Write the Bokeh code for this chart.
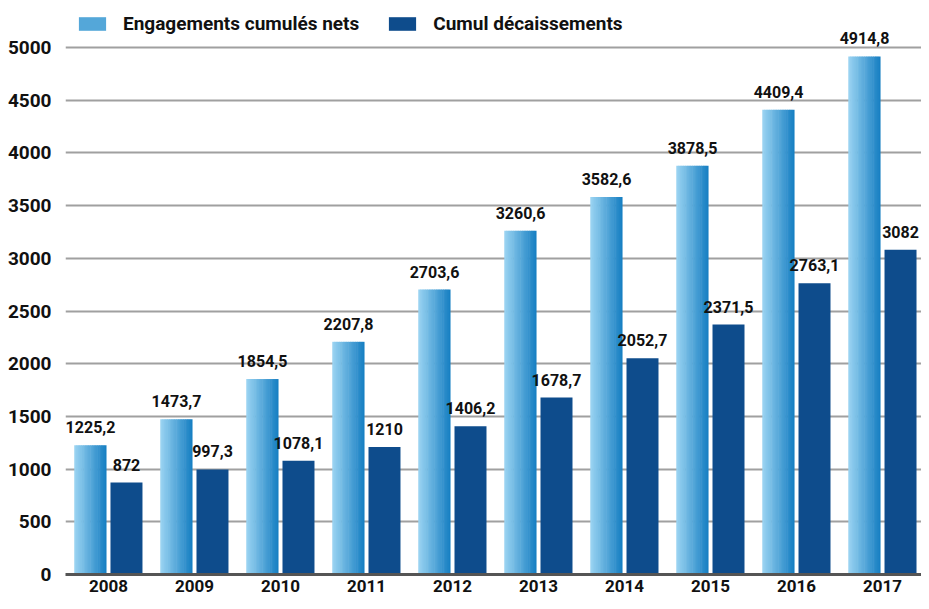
from bokeh.plotting import figure
from bokeh.models import (ColumnDataSource, Range1d, FixedTicker, Legend, LegendItem)
from bokeh.transform import dodge
from bokeh.core.properties import value
from bokeh.embed import file_html
from bokeh.resources import INLINE

# ---- data ----
years = ["2008", "2009", "2010", "2011", "2012", "2013", "2014", "2015", "2016", "2017"]
engagements = [1225.2, 1473.7, 1854.5, 2207.8, 2703.6, 3260.6, 3582.6, 3878.5, 4409.4, 4914.8]
decaissements = [872, 997.3, 1078.1, 1210, 1406.2, 1678.7, 2052.7, 2371.5, 2763.1, 3082]
y_ticks = [0, 500, 1000, 1500, 2000, 2500, 3000, 3500, 4000, 4500, 5000]
series_names = ["Engagements cumulés nets", "Cumul décaissements"]

FONT = "Roboto, 'DejaVu Sans Condensed', sans-serif"

def fmt(v):
    return f"{v:g}".replace(".", ",")

xi = list(range(len(years)))
src = ColumnDataSource(dict(
    x=xi,
    eng=engagements,
    dec=decaissements,
    eng_lbl=[fmt(v) for v in engagements],
    dec_lbl=[fmt(v) for v in decaissements],
))

p = figure(width=921, height=601, output_backend="svg", toolbar_location=None,
           x_range=Range1d(-0.5, 9.453), y_range=Range1d(0, 5446),
           min_border_left=65, min_border_right=0, min_border_top=0, min_border_bottom=27)
p.outline_line_color = None
p.background_fill_color = "white"
p.border_fill_color = "white"

BW = 0.372    # bar width (category units)
OFF = 0.209   # offset of each bar from category centre

# gradient light bars, built from thin vertical stripes
N = 18
c0 = (152, 210, 241)
c1 = (24, 128, 195)
sw = BW / N
stripe_renderers = []
for k in range(N):
    t = k / (N - 1)
    col = "#%02x%02x%02x" % tuple(int(round(a + (b - a) * t)) for a, b in zip(c0, c1))
    off = -OFF - BW / 2 + (k + 0.5) * sw
    w = sw * (1.3 if k < N - 1 else 1.0)
    r = p.vbar(x=dodge("x", off, range=p.x_range), top="eng", width=w, bottom=0,
               source=src, fill_color=col, line_color=None)
    stripe_renderers.append(r)

r_dec = p.vbar(x=dodge("x", OFF, range=p.x_range), top="dec", width=BW, bottom=0,
               source=src, fill_color="#0e4c8c", line_color=None)

# value labels
for col_x, col_y, col_t in ((-OFF, "eng", "eng_lbl"), (OFF, "dec", "dec_lbl")):
    p.text(x=dodge("x", col_x, range=p.x_range), y=col_y, text=col_t, source=src,
           text_align="center", text_baseline="bottom", y_offset=-12,
           text_font=value(FONT), text_font_style="bold", text_font_size="16px",
           text_color="#111111")

# axes
p.xaxis.ticker = FixedTicker(ticks=xi)
p.xaxis.major_label_overrides = {i: y for i, y in zip(xi, years)}
p.xaxis.axis_line_color = "#555555"
p.xaxis.axis_line_width = 3
p.xaxis.major_tick_line_color = None
p.xaxis.major_tick_out = 0
p.xaxis.major_tick_in = 0
p.xaxis.minor_tick_line_color = None
p.xaxis.major_label_standoff = 5
p.xaxis.major_label_text_font = FONT
p.xaxis.major_label_text_font_style = "bold"
p.xaxis.major_label_text_font_size = "17px"
p.xaxis.major_label_text_color = "#111111"

p.yaxis.ticker = FixedTicker(ticks=y_ticks)
p.yaxis.axis_line_color = None
p.yaxis.major_tick_line_color = None
p.yaxis.major_tick_out = 0
p.yaxis.major_tick_in = 0
p.yaxis.minor_tick_line_color = None
p.yaxis.major_label_standoff = 14
p.yaxis.major_label_text_font = FONT
p.yaxis.major_label_text_font_style = "bold"
p.yaxis.major_label_text_font_size = "19px"
p.yaxis.major_label_text_color = "#111111"

p.xgrid.grid_line_color = None
p.ygrid.grid_line_color = "#a0a0a0"
p.ygrid.grid_line_width = 2

legend = Legend(items=[
    LegendItem(label=series_names[0], renderers=[stripe_renderers[N // 2]]),
    LegendItem(label=series_names[1], renderers=[r_dec]),
], location=(10, 539), orientation="horizontal")
legend.border_line_color = None
legend.background_fill_alpha = 0
legend.padding = 0
legend.margin = 0
legend.spacing = 26
legend.glyph_width = 34
legend.glyph_height = 17
legend.label_standoff = 14
legend.label_text_font = FONT
legend.label_text_font_style = "bold"
legend.label_text_font_size = "19px"
legend.label_text_color = "#111111"
p.add_layout(legend)

open("out.html", "w").write(file_html(p, INLINE))
